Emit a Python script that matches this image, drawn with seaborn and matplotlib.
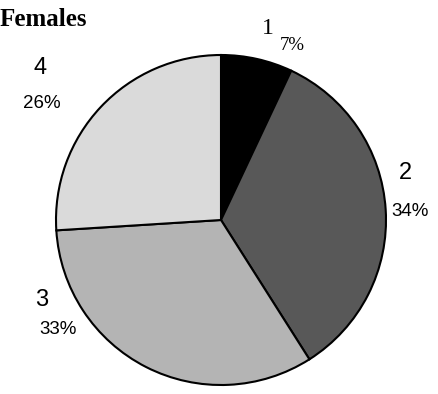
import matplotlib
matplotlib.use("Agg")
import matplotlib.pyplot as plt
import seaborn as sns

sns.set_theme(style="white")

groups = ["1", "2", "3", "4"]
shares = [7, 34, 33, 26]
pct_labels = ["7%", "34%", "33%", "26%"]
colors = ["#000000", "#585858", "#b4b4b4", "#dadada"]

H = 394  # figure height in px, labels given in image coords (y down)

fig = plt.figure(figsize=(4.38, 3.94), dpi=100)
ax = fig.add_axes([0, 0, 1, 1])

wedges, _ = ax.pie(
    shares,
    colors=colors,
    startangle=90,
    counterclock=False,
    center=(221, H - 220),
    radius=165,
    wedgeprops=dict(edgecolor="black", linewidth=1.5),
)
ax.set_xlim(0, 438)
ax.set_ylim(0, H)
ax.set_aspect("equal")
ax.axis("off")

# label spots (image px), one pair per slice
num_pos = [(268, 28), (405, 173), (42, 300), (40, 68)]
pct_pos = [(292, 45), (410, 211), (58, 330), (42, 103)]
serif = ["Liberation Serif", "DejaVu Serif"]
sans = ["Liberation Sans", "DejaVu Sans"]

for i, g in enumerate(groups):
    fam = serif if g == "1" else sans
    ax.text(num_pos[i][0], H - num_pos[i][1], g, ha="center", va="center",
            fontsize=17, family=fam, color="black")
    ax.text(pct_pos[i][0], H - pct_pos[i][1], pct_labels[i], ha="center",
            va="center", fontsize=13.5, family=fam, color="black")

ax.text(0, H - 19, "Females", ha="left", va="center", fontsize=18,
        fontweight="bold", family=serif, color="black")

fig.savefig("out.png", dpi=100)
